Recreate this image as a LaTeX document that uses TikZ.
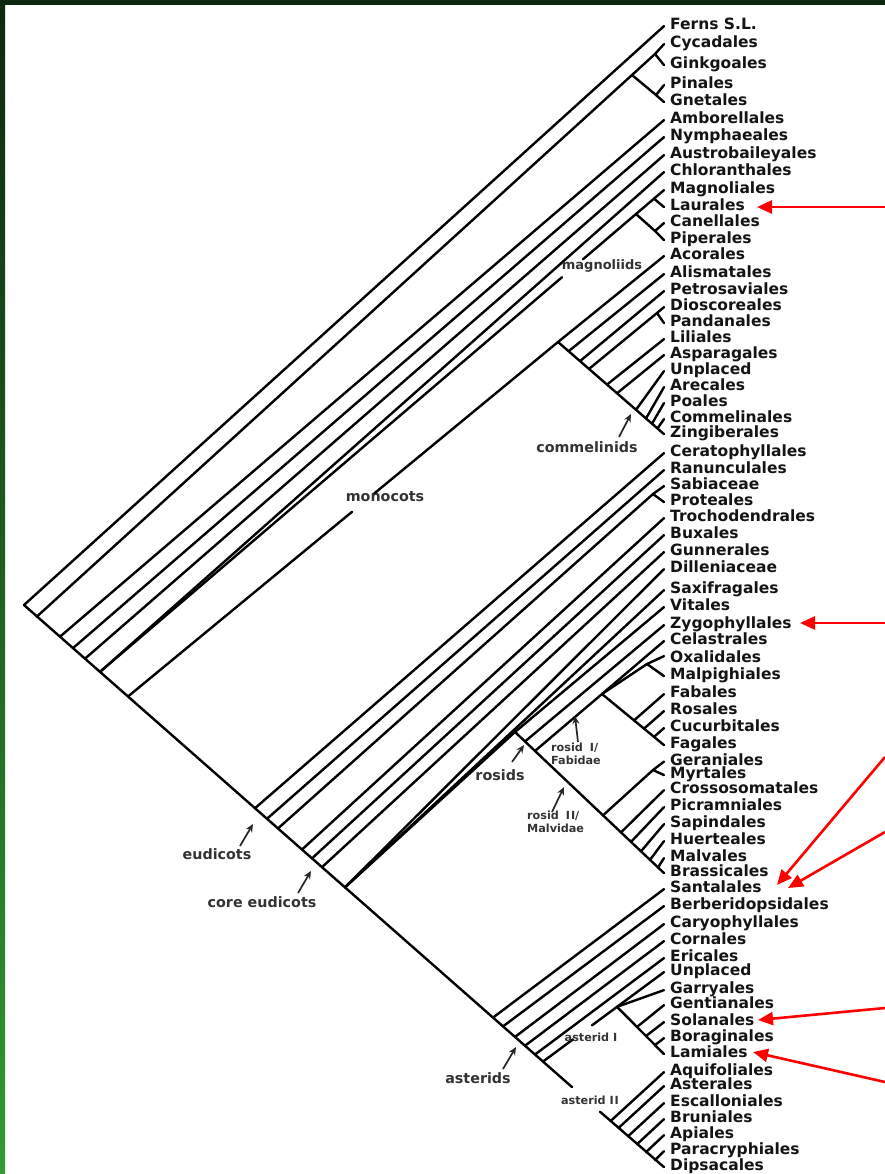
\documentclass[tikz,border=0pt]{standalone}
\usepackage{fontspec}
\setmainfont{DejaVu Sans}
\usetikzlibrary{arrows.meta,calc}
\definecolor{bordtop}{RGB}{12,40,14}
\definecolor{bordbot}{RGB}{50,155,50}
\newcommand\leafnode[3]{\node[leaf] (#1) at (664,{#2+5.6}) {#3};}
\newcommand\spinept[2]{\coordinate (#1) at ($(root)!{(#2-24)/640}!(spend)$);}
\begin{document}
\begin{tikzpicture}[x=1pt,y=-1pt,
 br/.style={line width=2.4pt,line cap=round,line join=round},
 leaf/.style={anchor=base west,inner xsep=6pt,inner ysep=0pt,text height=10pt,text depth=3pt,font=\fontsize{15.5}{15.5}\selectfont\bfseries,text=black!92},
 grp/.style={font=\fontsize{14.3}{15}\selectfont\bfseries,text=black!80,inner sep=0pt},
 sml/.style={font=\fontsize{11.2}{12.8}\selectfont\bfseries,text=black!80,inner sep=0pt,align=left},
 garr/.style={-{Stealth[length=8pt,width=7pt]},line width=1.7pt,black!85},
 rarr/.style={-{Triangle[length=15pt,width=13pt]},line width=2.6pt,red}]
\useasboundingbox (0,0) rectangle (885,1174);
\fill[white] (0,0) rectangle (885,1174);
\shade[top color=bordtop,bottom color=bordbot] (0,0) rectangle (5,1174);
\fill[bordtop] (0,0) rectangle (885,5);
% leaves
\leafnode{fer}{24}{Ferns S.L.}
\leafnode{cyc}{42}{Cycadales}
\leafnode{gin}{63}{Ginkgoales}
\leafnode{pin}{83}{Pinales}
\leafnode{gne}{100}{Gnetales}
\leafnode{amb}{118}{Amborellales}
\leafnode{nym}{135}{Nymphaeales}
\leafnode{aus}{153}{Austrobaileyales}
\leafnode{chl}{170}{Chloranthales}
\leafnode{mag}{188}{Magnoliales}
\leafnode{lau}{205}{Laurales}
\leafnode{can}{221}{Canellales}
\leafnode{pip}{238}{Piperales}
\leafnode{aco}{254}{Acorales}
\leafnode{ali}{272}{Alismatales}
\leafnode{pet}{289}{Petrosaviales}
\leafnode{dio}{305}{Dioscoreales}
\leafnode{pan}{321}{Pandanales}
\leafnode{lil}{337}{Liliales}
\leafnode{asp}{353}{Asparagales}
\leafnode{unm}{369}{Unplaced}
\leafnode{are}{385}{Arecales}
\leafnode{poa}{401}{Poales}
\leafnode{com}{417}{Commelinales}
\leafnode{zin}{432}{Zingiberales}
\leafnode{cer}{451}{Ceratophyllales}
\leafnode{ran}{468}{Ranunculales}
\leafnode{sab}{484}{Sabiaceae}
\leafnode{pro}{500}{Proteales}
\leafnode{tro}{516}{Trochodendrales}
\leafnode{bux}{533}{Buxales}
\leafnode{gun}{550}{Gunnerales}
\leafnode{dil}{567}{Dilleniaceae}
\leafnode{sax}{588}{Saxifragales}
\leafnode{vit}{605}{Vitales}
\leafnode{zyg}{623}{Zygophyllales}
\leafnode{cel}{639}{Celastrales}
\leafnode{oxa}{657}{Oxalidales}
\leafnode{mpg}{674}{Malpighiales}
\leafnode{fab}{692}{Fabales}
\leafnode{ros}{709}{Rosales}
\leafnode{cuc}{726}{Cucurbitales}
\leafnode{fag}{743}{Fagales}
\leafnode{ger}{759.5}{Geraniales}
\leafnode{myr}{773}{Myrtales}
\leafnode{cro}{788}{Crossosomatales}
\leafnode{pic}{805}{Picramniales}
\leafnode{sap}{822}{Sapindales}
\leafnode{hue}{839}{Huerteales}
\leafnode{mlv}{856}{Malvales}
\leafnode{bra}{871}{Brassicales}
\leafnode{san}{887}{Santalales}
\leafnode{ber}{904}{Berberidopsidales}
\leafnode{car}{922}{Caryophyllales}
\leafnode{cor}{939}{Cornales}
\leafnode{eri}{956}{Ericales}
\leafnode{una}{970}{Unplaced}
\leafnode{gar}{988}{Garryales}
\leafnode{gen}{1003}{Gentianales}
\leafnode{sol}{1020}{Solanales}
\leafnode{bor}{1036}{Boraginales}
\leafnode{lam}{1052}{Lamiales}
\leafnode{aqu}{1070}{Aquifoliales}
\leafnode{ast}{1084}{Asterales}
\leafnode{esc}{1101}{Escalloniales}
\leafnode{bru}{1117}{Bruniales}
\leafnode{api}{1133}{Apiales}
\leafnode{par}{1149}{Paracryphiales}
\leafnode{dip}{1165}{Dipsacales}
% spine
\coordinate (root) at (24,605);
\coordinate (spend) at (664,1168);
\spinept{s-seed}{37}\spinept{s-amb}{60}\spinept{s-nym}{73}\spinept{s-aus}{85}
\spinept{s-chl}{100}\spinept{s-mon}{128}
\spinept{s-cer}{255}\spinept{s-ran}{267}\spinept{s-sp}{278}\spinept{s-tro}{302}
\spinept{s-bux}{312}\spinept{s-gun}{322}\spinept{s-pen}{345}
\spinept{s-san}{493}\spinept{s-ber}{503}\spinept{s-car}{515}\spinept{s-cor}{525}
\spinept{s-eri}{535}\spinept{s-eua}{543}
\spinept{sg1}{572}\spinept{sg2}{600}
\spinept{s-aqu}{610.6}\spinept{s-ast}{618.5}\spinept{s-esc}{628}\spinept{s-bru}{637}
\spinept{s-api}{646}\spinept{s-par}{655}
% internal nodes
\coordinate (gym) at (632,75);
\coordinate (cg) at (655,54);
\coordinate (pg) at (656,95);
\coordinate (mcr) at ($(s-chl)!{536/564}!(mag.west)$);
\coordinate (mln) at ($(s-chl)!{554/564}!(mag.west)$);
\coordinate (mg1) at ($(s-chl)!0.8191!(mag.west)$);
\coordinate (mg2) at ($(s-chl)!0.8564!(mag.west)$);
\coordinate (cpn) at (655,231);
\coordinate (mcrown) at (558,342);
\coordinate (mo1) at ($(s-mon)!0.5209!(mcrown)$);
\coordinate (mo2) at ($(s-mon)!0.5698!(mcrown)$);
\coordinate (d-ali) at ($(mcrown)!0.1!(zin.west)$);
\coordinate (d-pet) at ($(mcrown)!0.2075!(zin.west)$);
\coordinate (d-dp) at ($(mcrown)!0.2925!(zin.west)$);
\coordinate (dpn) at (657,313);
\coordinate (d-lil) at ($(mcrown)!0.4623!(zin.west)$);
\coordinate (d-asp) at ($(mcrown)!0.5566!(zin.west)$);
\coordinate (d-cml) at ($(mcrown)!0.7358!(zin.west)$);
\coordinate (d-are) at ($(mcrown)!0.8302!(zin.west)$);
\coordinate (d-poa) at ($(mcrown)!0.8868!(zin.west)$);
\coordinate (d-com) at ($(mcrown)!0.9387!(zin.west)$);
\coordinate (spn) at (653,494);
\coordinate (rn) at (515,732);
\coordinate (r-zyg) at ($(rn)!{10/149}!(bra.west)$);
\coordinate (r-fab) at ($(rn)!{20/149}!(bra.west)$);
\coordinate (r-mal) at ($(rn)!{88/149}!(bra.west)$);
\coordinate (r-cro) at ($(rn)!{106/149}!(bra.west)$);
\coordinate (r-pic) at ($(rn)!{116/149}!(bra.west)$);
\coordinate (r-sap) at ($(rn)!{126/149}!(bra.west)$);
\coordinate (r-hue) at ($(rn)!{135/149}!(bra.west)$);
\coordinate (r-mlv) at ($(rn)!{143/149}!(bra.west)$);
\coordinate (gmn) at (653,770);
\coordinate (fnf) at (602,694);
\coordinate (n-fab) at ($(fnf)!{32/62}!(fag.west)$);
\coordinate (n-ros) at ($(fnf)!{42/62}!(fag.west)$);
\coordinate (n-cuc) at ($(fnf)!{52/62}!(fag.west)$);
\coordinate (omn) at (647,664);
\coordinate (ain) at ($(s-eua)!{74/121}!(una.west)$);
\coordinate (ai1) at ($(s-eua)!{30/121}!(una.west)$);
\coordinate (ai2) at ($(s-eua)!{49/121}!(una.west)$);
\coordinate (a-gen) at ($(ain)!{20/47}!(lam.west)$);
\coordinate (a-sol) at ($(ain)!{29/47}!(lam.west)$);
\coordinate (a-bor) at ($(ain)!{38/47}!(lam.west)$);
% branches
\draw[br] (root) -- (sg1);
\draw[br] (sg2) -- (dip.west);
\draw[br] (root) -- (fer.west);
\draw[br] (s-seed) -- (gym) -- (cg) -- (cyc.west);
\draw[br] (cg) -- (gin.west);
\draw[br] (gym) -- (pg) -- (pin.west);
\draw[br] (pg) -- (gne.west);
\draw[br] (s-amb) -- (amb.west);
\draw[br] (s-nym) -- (nym.west);
\draw[br] (s-aus) -- (aus.west);
\draw[br] (s-chl) -- (chl.west);
\draw[br] (s-chl) -- (mg1);
\draw[br] (mg2) -- (mag.west);
\draw[br] (mln) -- (lau.west);
\draw[br] (mcr) -- (cpn) -- (can.west);
\draw[br] (cpn) -- (pip.west);
\draw[br] (s-mon) -- (mo1);
\draw[br] (mo2) -- (mcrown) -- (aco.west);
\draw[br] (mcrown) -- (zin.west);
\draw[br] (d-ali) -- (ali.west);
\draw[br] (d-pet) -- (pet.west);
\draw[br] (d-dp) -- (dpn) -- (dio.west);
\draw[br] (dpn) -- (pan.west);
\draw[br] (d-lil) -- (lil.west);
\draw[br] (d-asp) -- (asp.west);
\draw[br] (d-cml) -- (unm.west);
\draw[br] (d-are) -- (are.west);
\draw[br] (d-poa) -- (poa.west);
\draw[br] (d-com) -- (com.west);
\draw[br] (s-cer) -- (cer.west);
\draw[br] (s-ran) -- (ran.west);
\draw[br] (s-sp) -- (spn) -- (sab.west);
\draw[br] (spn) -- (pro.west);
\draw[br] (s-tro) -- (tro.west);
\draw[br] (s-bux) -- (bux.west);
\draw[br] (s-gun) -- (gun.west);
\draw[br] (s-pen) -- (dil.west);
\draw[br] (s-pen) -- (sax.west);
\draw[br] (s-pen) -- (rn);
\draw[br] (rn) -- (vit.west);
\draw[br] (rn) -- (bra.west);
\draw[br] (r-zyg) -- (zyg.west);
\draw[br] (r-fab) -- (fnf) -- (cel.west);
\draw[br] (fnf) -- (fag.west);
\draw[br] (n-fab) -- (fab.west);
\draw[br] (n-ros) -- (ros.west);
\draw[br] (n-cuc) -- (cuc.west);
\draw[br] (fnf) -- (omn) -- ([yshift=3pt]oxa.west);
\draw[br] (omn) -- (mpg.west);
\draw[br] (r-mal) -- (gmn) -- (ger.west);
\draw[br] (gmn) -- (myr.west);
\draw[br] (r-cro) -- (cro.west);
\draw[br] (r-pic) -- (pic.west);
\draw[br] (r-sap) -- (sap.west);
\draw[br] (r-hue) -- (hue.west);
\draw[br] (r-mlv) -- (mlv.west);
\draw[br] (s-san) -- (san.west);
\draw[br] (s-ber) -- (ber.west);
\draw[br] (s-car) -- (car.west);
\draw[br] (s-cor) -- (cor.west);
\draw[br] (s-eri) -- (eri.west);
\draw[br] (s-eua) -- (ai1);
\draw[br] (ai2) -- (ain) -- (una.west);
\draw[br] (ain) -- (gar.west);
\draw[br] (ain) -- (lam.west);
\draw[br] (a-gen) -- (gen.west);
\draw[br] (a-sol) -- (sol.west);
\draw[br] (a-bor) -- (bor.west);
\draw[br] (s-aqu) -- (aqu.west);
\draw[br] (s-ast) -- (ast.west);
\draw[br] (s-esc) -- (esc.west);
\draw[br] (s-bru) -- (bru.west);
\draw[br] (s-api) -- (api.west);
\draw[br] (s-par) -- (par.west);
% group labels
\node[grp,font=\fontsize{13}{14}\selectfont\bfseries] (lmag) at (602,266) {magnoliids};
\node[grp] (lcom) at (587,447) {commelinids};
\node[grp] (lmon) at (385,497) {monocots};
\node[grp] (leud) at (217,854) {eudicots};
\node[grp] (lcore) at (262,902) {core eudicots};
\node[grp] (lros) at (500,775) {rosids};
\node[sml,anchor=north west] (lfab) at (551,743) {rosid\hspace{3pt} I/\\Fabidae};
\node[sml,anchor=north west] (lmal) at (527,811) {rosid\hspace{3pt} I\hspace{1pt}I/\\Malvidae};
\node[grp] (last) at (478,1078) {asterids};
\node[sml] (lai) at (591,1037) {asterid I};
\node[sml] (laii) at (590,1100) {asterid I\hspace{1pt}I};
% label arrows
\coordinate (ac1) at (619,437); \coordinate (ac2) at (631,414);
\coordinate (ae1) at (240,846); \coordinate (ae2) at (253,824);
\coordinate (ak1) at (298,893); \coordinate (ak2) at (311,871);
\coordinate (ar1) at (512,762); \coordinate (ar2) at (524,745);
\coordinate (af1) at (578,742); \coordinate (af2) at (575,716);
\coordinate (am1) at (552,812); \coordinate (am2) at (564,787);
\coordinate (aa1) at (503,1069); \coordinate (aa2) at (516,1047);
\draw[garr] (ac1) -- (ac2);
\draw[garr] (ae1) -- (ae2);
\draw[garr] (ak1) -- (ak2);
\draw[garr] (ar1) -- (ar2);
\draw[garr] (af1) -- (af2);
\draw[garr] (am1) -- (am2);
\draw[garr] (aa1) -- (aa2);
% red arrows
\coordinate (q1) at (885,207); \coordinate (p1) at (757,207);
\coordinate (q2) at (885,623); \coordinate (p2) at (800,623);
\coordinate (q3) at (885,757); \coordinate (p3) at (777,885);
\coordinate (q4) at (885,832); \coordinate (p4) at (788,888);
\coordinate (q5) at (885,1008); \coordinate (p5) at (758,1020);
\coordinate (q6) at (885,1082); \coordinate (p6) at (753,1052);
\draw[rarr] (q1) -- (p1);
\draw[rarr] (q2) -- (p2);
\draw[rarr] (q3) -- (p3);
\draw[rarr] (q4) -- (p4);
\draw[rarr] (q5) -- (p5);
\draw[rarr] (q6) -- (p6);
\end{tikzpicture}
\end{document}
